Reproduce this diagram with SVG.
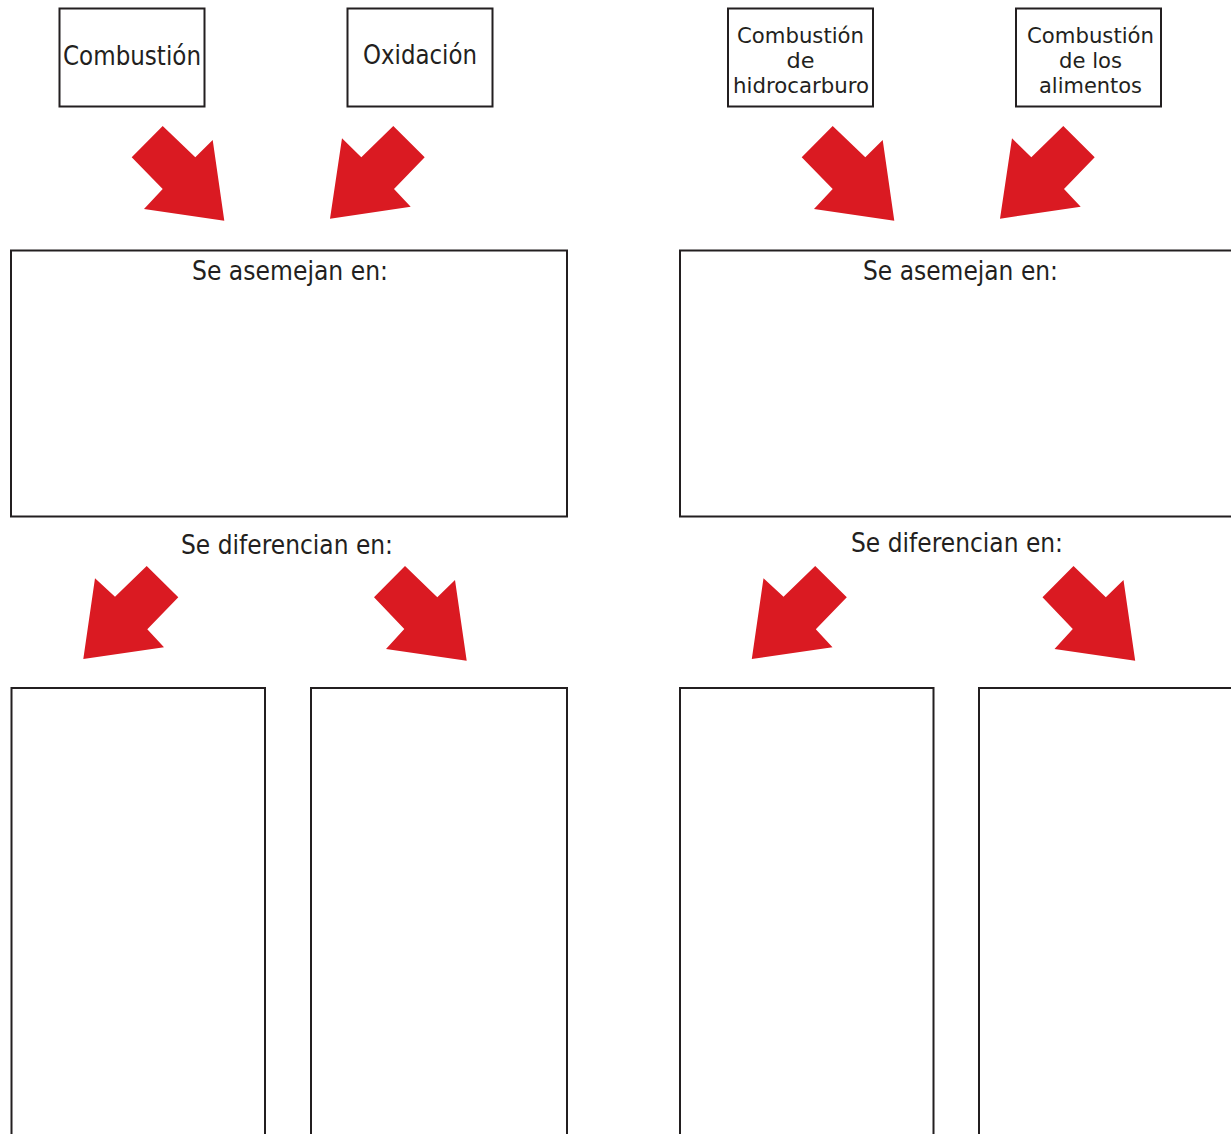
<svg xmlns="http://www.w3.org/2000/svg" width="1231" height="1134" viewBox="0 0 1231 1134">
<style>
.box{fill:#fff;stroke:#231f20;stroke-width:2}
.arr{fill:#da1a22}
.t{font-family:"DejaVu Sans","Liberation Sans",sans-serif;fill:#231f20;text-anchor:middle}
.l{font-size:26px}
.s{font-size:22px}
</style>
<defs>
<polygon id="a1" points="162.7,126 195.3,157.3 212.7,140 224.3,220.7 144,209 162.7,189 131.7,157.3"/>
<polygon id="a2" points="393.3,126 424.7,157.3 394,189 410.7,206.7 330,218.7 342,138.3 361.3,157.3"/>
<polygon id="b1" points="146.7,566 178.3,597.3 147.3,629.3 164,647.3 83.3,659 95,578.3 115,596.7"/>
<polygon id="b2" points="405,566 374,597.3 404.3,629 386,649 466.7,660.7 455,580 437.3,597.3"/>
</defs>
<rect width="1231" height="1134" fill="#fff"/>
<g id="connectors" class="arr">
<use href="#a1"/>
<use href="#a2"/>
<use href="#b1"/>
<use href="#b2"/>
<use href="#a1" transform="translate(670,0)"/>
<use href="#a2" transform="translate(670,0)"/>
<use href="#b1" transform="translate(668.5,0)"/>
<use href="#b2" transform="translate(668.5,0)"/>
</g>
<g id="n-combustion">
<rect class="box" x="59.5" y="8.5" width="145" height="98"/>
<text class="t l" x="132" y="65" textLength="138" lengthAdjust="spacingAndGlyphs">Combustión</text>
</g>
<g id="n-oxidacion">
<rect class="box" x="347.5" y="8.5" width="145" height="98"/>
<text class="t l" x="420" y="64" textLength="114" lengthAdjust="spacingAndGlyphs">Oxidación</text>
</g>
<g id="n-hidrocarburo">
<rect class="box" x="728" y="8.5" width="145" height="98"/>
<text class="t s" x="800.5" y="42.5" textLength="127" lengthAdjust="spacingAndGlyphs">Combustión</text>
<text class="t s" x="800.5" y="67.5" textLength="28" lengthAdjust="spacingAndGlyphs">de</text>
<text class="t s" x="801" y="93" textLength="136" lengthAdjust="spacingAndGlyphs">hidrocarburo</text>
</g>
<g id="n-alimentos">
<rect class="box" x="1016" y="8.5" width="145" height="98"/>
<text class="t s" x="1090.5" y="42.5" textLength="127" lengthAdjust="spacingAndGlyphs">Combustión</text>
<text class="t s" x="1090.5" y="67.5" textLength="63" lengthAdjust="spacingAndGlyphs">de los</text>
<text class="t s" x="1090.5" y="93" textLength="103" lengthAdjust="spacingAndGlyphs">alimentos</text>
</g>
<g id="n-asemejan-1">
<rect class="box" x="11" y="250.5" width="556" height="266"/>
<text class="t l" x="290" y="280" textLength="196" lengthAdjust="spacingAndGlyphs">Se asemejan en:</text>
</g>
<g id="n-asemejan-2">
<rect class="box" x="680" y="250.5" width="560" height="266"/>
<text class="t l" x="960.5" y="280" textLength="195" lengthAdjust="spacingAndGlyphs">Se asemejan en:</text>
</g>
<g id="n-diferencian-label-1">
<text class="t l" x="287" y="554" textLength="212" lengthAdjust="spacingAndGlyphs">Se diferencian en:</text>
</g>
<g id="n-diferencian-label-2">
<text class="t l" x="957" y="552" textLength="212" lengthAdjust="spacingAndGlyphs">Se diferencian en:</text>
</g>
<g id="n-dif-1a"><rect class="box" x="11.5" y="688" width="253.5" height="460"/></g>
<g id="n-dif-1b"><rect class="box" x="311" y="688" width="256" height="460"/></g>
<g id="n-dif-2a"><rect class="box" x="680" y="688" width="253.5" height="460"/></g>
<g id="n-dif-2b"><rect class="box" x="979" y="688" width="270" height="460"/></g>
</svg>
